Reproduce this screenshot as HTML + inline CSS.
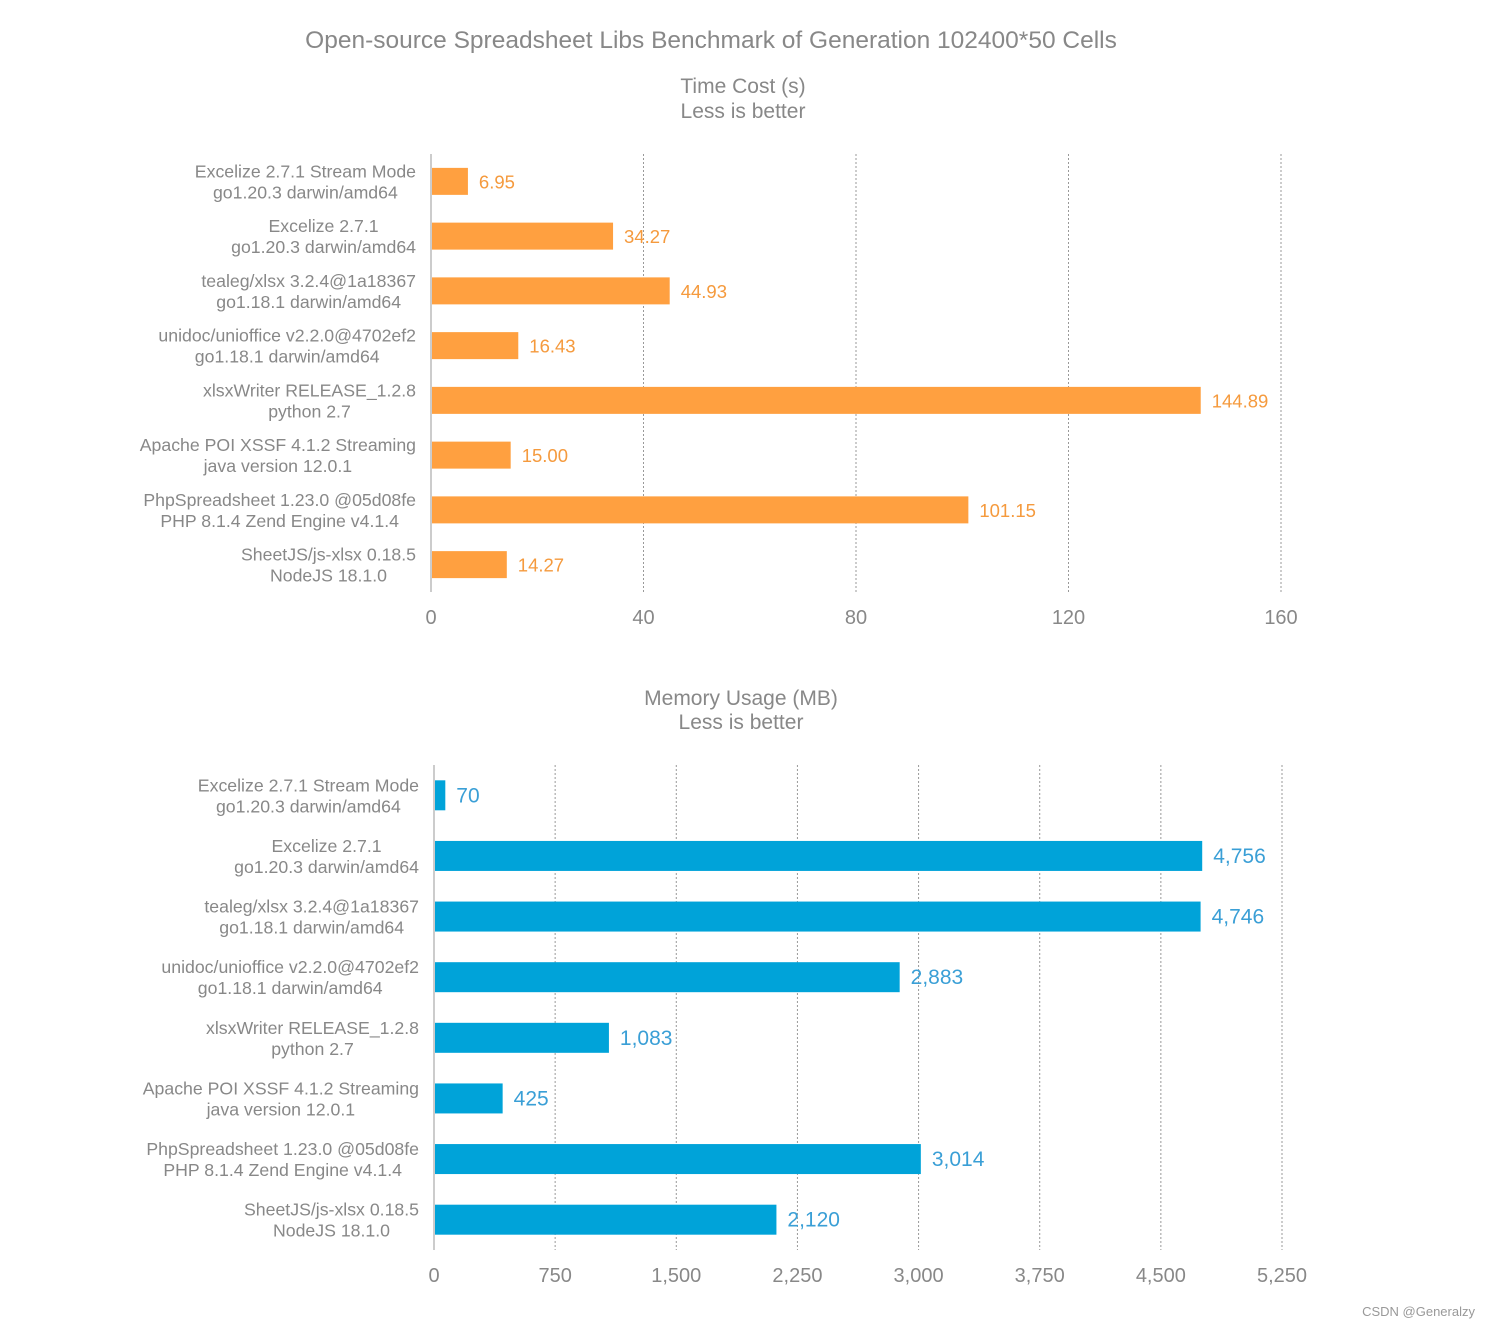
<!DOCTYPE html>
<html><head><meta charset="utf-8"><style>
body{margin:0;background:#fff;font-family:"Liberation Sans",sans-serif;}
svg text{font-family:"Liberation Sans",sans-serif;}
</style></head><body>
<svg id="c" width="1491" height="1329">
<text x="711" y="48" text-anchor="middle" font-size="24.5" fill="#888">Open-source Spreadsheet Libs Benchmark of Generation 102400*50 Cells</text>
<text x="743" y="93" text-anchor="middle" font-size="21" fill="#888">Time Cost (s)</text>
<text x="743" y="118" text-anchor="middle" font-size="21" fill="#888">Less is better</text>
<text x="741" y="705" text-anchor="middle" font-size="21" fill="#888">Memory Usage (MB)</text>
<text x="741" y="729" text-anchor="middle" font-size="21" fill="#888">Less is better</text>
<text x="1475" y="1316" text-anchor="end" font-size="13" fill="#999">CSDN @Generalzy</text>
</svg>
<script>
const libNames=["Excelize 2.7.1 Stream Mode","Excelize 2.7.1","tealeg/xlsx 3.2.4@1a18367","unidoc/unioffice v2.2.0@4702ef2","xlsxWriter RELEASE_1.2.8","Apache POI XSSF 4.1.2 Streaming","PhpSpreadsheet 1.23.0 @05d08fe","SheetJS/js-xlsx 0.18.5"];
const libEnvs=["go1.20.3 darwin/amd64","go1.20.3 darwin/amd64","go1.18.1 darwin/amd64","go1.18.1 darwin/amd64","python 2.7","java version 12.0.1","PHP 8.1.4 Zend Engine v4.1.4","NodeJS 18.1.0"];
const timeValues=[6.95,34.27,44.93,16.43,144.89,15.00,101.15,14.27];
const timeTicks=[0,40,80,120,160];
const memValues=[70,4756,4746,2883,1083,425,3014,2120];
const memTicks=[0,750,1500,2250,3000,3750,4500,5250];
const svg=document.getElementById('c');
const NS='http://www.w3.org/2000/svg';
function mk(tag,attrs,txt){const e=document.createElementNS(NS,tag);for(const k in attrs)e.setAttribute(k,attrs[k]);if(txt!==undefined)e.textContent=txt;svg.appendChild(e);return e;}
function chart(o){
  const sx=v=>o.x0+(v-o.ticks[0])/(o.ticks[o.ticks.length-1]-o.ticks[0])*(o.x1-o.x0);
  const band=(o.yb-o.yt)/o.values.length;
  o.ticks.forEach((t,i)=>{
    if(i>0){const g=mk('line',{x1:sx(t),x2:sx(t),y1:o.yt,y2:o.yb,stroke:'#999','stroke-dasharray':'2,2','stroke-width':1});
    
    }
    const tl=mk('text',{x:sx(t),y:o.yb+32,'text-anchor':'middle','font-size':20,fill:'#888'},t.toLocaleString('en-US'));
    
    
  });
  o.values.forEach((v,i)=>{
    const cy=o.yt+band*(i+0.5);
    const b=mk('rect',{x:sx(0),y:cy-o.bh/2,width:sx(v)-sx(0),height:o.bh,fill:o.color});
    
    
    const vl=mk('text',{x:sx(v)+11,y:cy+7,'font-size':o.vfs,fill:o.lcolor},o.fmt(v));
    
    
    const c1=mk('text',{x:0,y:cy-4,'text-anchor':'middle','font-size':17.7,fill:'#888'},libNames[i]);
    
    
    const c2=mk('text',{x:0,y:cy+17,'text-anchor':'middle','font-size':17.7,fill:'#888'},libEnvs[i]);
    
    
    const w=Math.max(c1.getComputedTextLength(),c2.getComputedTextLength());
    c1.setAttribute('x',o.lr-w/2);c2.setAttribute('x',o.lr-w/2);
  });
  const ax=mk('line',{x1:o.x0,x2:o.x0,y1:o.yt,y2:o.yb,stroke:'#ccc','stroke-width':2});
  
  
}
chart({key:'time',values:timeValues,ticks:timeTicks,x0:431,x1:1281,yt:154,yb:592,bh:27,color:'#ffa040',lcolor:'#f59a3d',vfs:18.5,lr:416,fmt:v=>v.toFixed(2)});
chart({key:'memory',values:memValues,ticks:memTicks,x0:434,x1:1282,yt:765,yb:1250,bh:30,color:'#00a3d9',lcolor:'#3a9fd6',vfs:21,lr:419,fmt:v=>v.toLocaleString('en-US')});
</script>
</body></html>
